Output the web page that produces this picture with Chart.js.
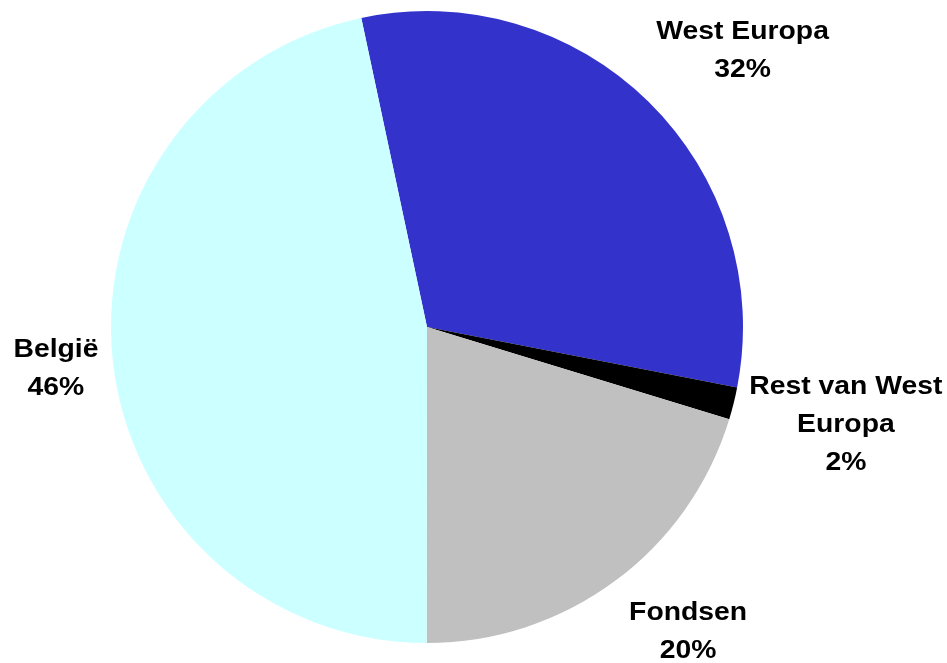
<!DOCTYPE html>
<html>
<head>
<meta charset="utf-8">
<script src="https://cdn.jsdelivr.net/npm/chart.js@4"></script>
<style>
html,body{margin:0;padding:0;background:#fff;}
#wrap{width:947px;height:663px;position:relative;}
</style>
</head>
<body>
<div id="wrap"><canvas id="c" width="947" height="663"></canvas></div>
<script>
const categories = ['West Europa', 'Rest van West Europa', 'Fondsen', 'België'];
const values = [31.4, 1.65, 20.3, 46.65];
const percentLabels = ['32%', '2%', '20%', '46%'];
const colors = ['#3333CC', '#000000', '#C0C0C0', '#CCFFFF'];

const FONT_SIZE = 26;
const FONT = 'bold ' + FONT_SIZE + 'px "Liberation Sans", Arial, sans-serif';
const SCALE_X = 1.09;
const LINE_H = 38;
const CAP_H = 0.716 * FONT_SIZE;
const MAX_W = 200;

function wrap(ctx, text) {
  const words = text.split(' ');
  const lines = [];
  let cur = '';
  for (const w of words) {
    const t = cur ? cur + ' ' + w : w;
    if (ctx.measureText(t).width * SCALE_X > MAX_W && cur) { lines.push(cur); cur = w; }
    else cur = t;
  }
  if (cur) lines.push(cur);
  return lines;
}

const labelPlugin = {
  id: 'outerLabels',
  afterDraw(chart, args, opts) {
    const ctx = chart.ctx;
    const meta = chart.getDatasetMeta(0);
    ctx.save();
    ctx.font = FONT;
    ctx.fillStyle = '#000';
    ctx.textAlign = 'center';
    ctx.textBaseline = 'alphabetic';
    meta.data.forEach((arc, i) => {
      const lines = wrap(ctx, categories[i]).concat([percentLabels[i]]);
      const mid = (arc.startAngle + arc.endAngle) / 2 + opts.angleShift[i] * Math.PI / 180;
      const d = arc.outerRadius * opts.distance[i];
      const cx = arc.x + d * Math.cos(mid);
      const cy = arc.y + d * Math.sin(mid);
      const base = cy - ((lines.length - 1) * LINE_H - CAP_H) / 2;
      lines.forEach((l, k) => {
        ctx.save();
        ctx.translate(cx, base + k * LINE_H);
        ctx.scale(SCALE_X, 1);
        ctx.fillText(l, 0, 0);
        ctx.restore();
      });
    });
    ctx.restore();
  }
};

new Chart(document.getElementById('c'), {
  type: 'pie',
  data: {
    labels: categories,
    datasets: [{
      data: values,
      backgroundColor: colors,
      borderWidth: 0,
      hoverOffset: 0
    }]
  },
  options: {
    responsive: false,
    animation: false,
    rotation: -12,
    layout: { padding: { top: 11, bottom: 20, left: 100, right: 193 } },
    plugins: {
      legend: { display: false },
      tooltip: { enabled: false },
      outerLabels: {
        distance: [1.331, 1.360, 1.266, 1.181],
        angleShift: [4.1, -1.1, -4.27, -0.18]
      }
    }
  },
  plugins: [labelPlugin]
});
</script>
</body>
</html>
